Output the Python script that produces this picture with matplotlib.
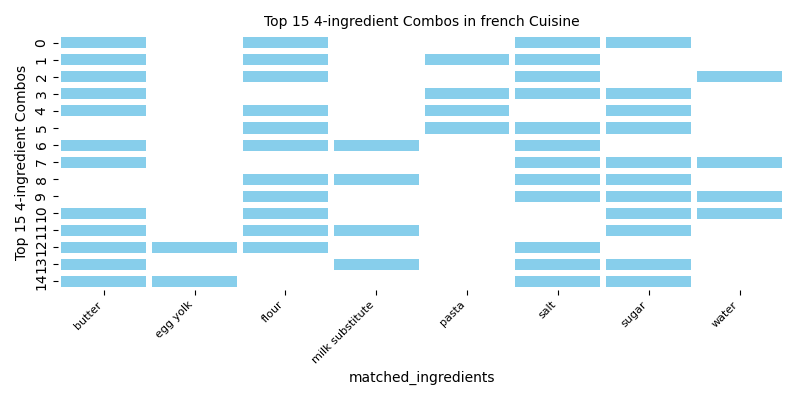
import numpy as np
import pandas as pd
import seaborn as sns
import matplotlib
matplotlib.use("Agg")
from matplotlib import pyplot as plt
from matplotlib.colors import ListedColormap

ingredients = ["butter", "egg yolk", "flour", "milk substitute",
               "pasta", "salt", "sugar", "water"]

# each combo = 4 ingredients
combos = [
    ["butter", "flour", "salt", "sugar"],
    ["butter", "flour", "pasta", "salt"],
    ["butter", "flour", "salt", "water"],
    ["butter", "pasta", "salt", "sugar"],
    ["butter", "flour", "pasta", "sugar"],
    ["flour", "pasta", "salt", "sugar"],
    ["butter", "flour", "milk substitute", "salt"],
    ["butter", "salt", "sugar", "water"],
    ["flour", "milk substitute", "salt", "sugar"],
    ["flour", "salt", "sugar", "water"],
    ["butter", "flour", "sugar", "water"],
    ["butter", "flour", "milk substitute", "sugar"],
    ["butter", "egg yolk", "flour", "salt"],
    ["butter", "milk substitute", "salt", "sugar"],
    ["butter", "egg yolk", "salt", "sugar"],
]

mat = pd.DataFrame(0, index=range(len(combos)), columns=ingredients)
for i, c in enumerate(combos):
    mat.loc[i, c] = 1
mat.columns.name = "matched_ingredients"

fig, ax = plt.subplots(figsize=(8, 4), dpi=100)
sns.heatmap(mat, cmap=ListedColormap(["white", "skyblue"]), cbar=False,
            linewidths=4.3, linecolor="white", ax=ax)
ax.set_title("Top 15 4-ingredient Combos in french Cuisine", fontsize=10)
ax.set_ylabel("Top 15 4-ingredient Combos")
ax.set_xlabel("matched_ingredients")
plt.setp(ax.get_xticklabels(), rotation=45, ha="right", fontsize=8)
plt.setp(ax.get_yticklabels(), rotation=90, va="center")
plt.tight_layout()
plt.savefig("out.png")
